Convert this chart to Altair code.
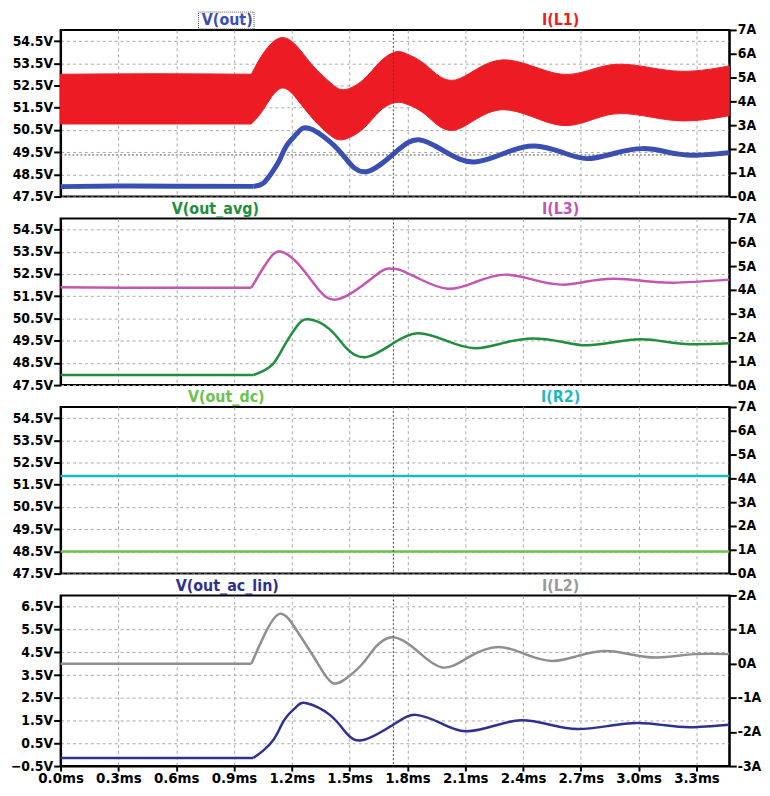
import altair as alt
import pandas as pd

# ---------------- data (time in ms) ----------------
T_END = 3.47
XTICKS = [0.0, 0.3, 0.6, 0.9, 1.2, 1.5, 1.8, 2.1, 2.4, 2.7, 3.0, 3.3]
CURSOR_T = 1.727
CURSOR_V = 49.375
STEP_V = 1.0     # start of the load step seen on the voltage traces
STEP_I = 0.99    # start of the load step seen on the current traces

V_TICKS = [47.5, 48.5, 49.5, 50.5, 51.5, 52.5, 53.5, 54.5]
A_TICKS = [0, 1, 2, 3, 4, 5, 6, 7]
VAC_TICKS = [-0.5, 0.5, 1.5, 2.5, 3.5, 4.5, 5.5, 6.5]
IL2_TICKS = [-3, -2, -1, 0, 1, 2]

# Panel 1: V(out) (left) and I(L1) ripple band (right)
VOUT_T = [0, 0.3, 0.6, 1.0, 1.054, 1.105, 1.14, 1.174, 1.226, 1.286, 1.40, 1.48, 1.586,
          1.74, 1.86, 1.998, 2.148, 2.32, 2.46, 2.60, 2.73, 2.87, 3.02, 3.15, 3.28, 3.47]
VOUT_V = [47.95, 47.98, 47.97, 47.96, 48.12, 48.69, 49.21, 49.81, 50.33, 50.58, 49.95, 49.21, 48.62,
          49.51, 50.06, 49.51, 49.06, 49.51, 49.78, 49.50, 49.21, 49.44, 49.66, 49.50, 49.36, 49.48]

IL1_T = [0, 0.5, 0.99, 1.054, 1.14, 1.226, 1.31, 1.40, 1.47, 1.57, 1.66, 1.74,
         1.8, 1.9, 2.05, 2.29, 2.60, 2.87, 3.18, 3.47]
IL1_HI = [5.14, 5.16, 5.14, 6.04, 6.67, 6.32, 5.49, 4.79, 4.49, 4.90, 5.68, 6.08,
          5.98, 5.50, 4.90, 5.74, 5.14, 5.55, 5.28, 5.49]
IL1_LO = [3.05, 3.05, 3.05, 3.68, 4.54, 4.10, 3.26, 2.57, 2.40, 2.85, 3.62, 3.95,
          3.87, 3.40, 2.80, 3.65, 2.99, 3.47, 3.20, 3.40]

# Panel 2: V(out_avg) (left) and I(L3) (right)
VAVG_T = [0, 0.5, 1.0, 1.05, 1.10, 1.14, 1.174, 1.226, 1.286, 1.397, 1.483, 1.586, 1.72, 1.853,
          2.0, 2.15, 2.30, 2.45, 2.6, 2.73, 2.87, 3.01, 3.14, 3.27, 3.47]
VAVG_V = [47.95, 47.95, 47.95, 48.13, 48.43, 48.95, 49.47, 50.15, 50.46, 50.01, 49.16, 48.76, 49.35, 49.83,
          49.50, 49.16, 49.40, 49.60, 49.45, 49.29, 49.43, 49.56, 49.45, 49.34, 49.38]

IL3_T = [0, 0.33, 0.99, 1.054, 1.097, 1.14, 1.226, 1.329, 1.43, 1.57, 1.67, 1.715, 1.76,
         1.86, 2.01, 2.16, 2.31, 2.45, 2.60, 2.73, 2.87, 3.02, 3.18, 3.47]
IL3_V = [4.11, 4.09, 4.09, 4.95, 5.44, 5.61, 5.15, 4.11, 3.59, 4.20, 4.81, 4.89, 4.84,
         4.47, 4.05, 4.35, 4.64, 4.43, 4.22, 4.35, 4.47, 4.38, 4.30, 4.43]

# Panel 3: V(out_dc) (left) and I(R2) (right)
DC_T = [0, 3.47]
VDC_V = [48.5, 48.5]
IR2_V = [4.1, 4.1]

# Panel 4: V(out_ac_lin) (left) and I(L2) (right)
VAC_T = [0, 0.5, 1.0, 1.05, 1.105, 1.14, 1.174, 1.226, 1.277, 1.397, 1.483, 1.577, 1.74,
         1.843, 1.97, 2.10, 2.25, 2.39, 2.54, 2.68, 2.84, 2.99, 3.13, 3.27, 3.47]
VAC_V = [-0.14, -0.14, -0.14, 0.17, 0.66, 1.20, 1.68, 2.12, 2.26, 1.75, 0.95, 0.66, 1.39,
         1.75, 1.40, 1.03, 1.27, 1.51, 1.32, 1.13, 1.26, 1.39, 1.30, 1.21, 1.32]

IL2_T = [0, 0.5, 0.99, 1.054, 1.136, 1.226, 1.33, 1.41, 1.49, 1.57, 1.64, 1.71, 1.77, 1.85, 1.98,
         2.12, 2.27, 2.41, 2.55, 2.68, 2.82, 2.96, 3.10, 3.29, 3.47]
IL2_V = [0.0, 0.0, 0.0, 0.80, 1.46, 0.97, 0.05, -0.56, -0.40, 0.02, 0.52, 0.77, 0.70, 0.38, -0.11,
         0.20, 0.49, 0.28, 0.08, 0.22, 0.37, 0.27, 0.18, 0.28, 0.28]

TITLES_LEFT = ["V(out)", "V(out_avg)", "V(out_dc)", "V(out_ac_lin)"]
TITLES_RIGHT = ["I(L1)", "I(L3)", "I(R2)", "I(L2)"]

# ---------------- style ----------------
FONT = "'DejaVu Sans Condensed', 'DejaVu Sans'"
INTERP = "natural"
W = 674
H = 168
H4 = 172
BLUE_OUT = "#3a4fb5"
RED = "#ed1c24"
GREEN_AVG = "#1f8e3d"
MAGENTA = "#c455b5"
LGREEN = "#6cc24a"
CYAN = "#1fb8c2"
NAVY = "#2e3192"
GREY = "#8f8f8f"
GREY_T = "#9a9a9a"


def split(ts, cols, t_split):
    """Build a table with a 'seg' column: flat part before the step, transient after."""
    rows = []
    for k, t in enumerate(ts):
        vals = {name: arr[k] for name, arr in cols.items()}
        if t <= t_split:
            rows.append(dict(t=t, seg=0, **vals))
        if t >= t_split:
            rows.append(dict(t=t, seg=1, **vals))
    return pd.DataFrame(rows)


def x_enc(bottom):
    if bottom:
        ax = alt.Axis(values=XTICKS, labelExpr="format(datum.value,'.1f')+'ms'",
                      grid=True, ticks=True, domain=True, labelFontSize=15,
                      labelFlush=False, tickSize=5, labelPadding=0)
    else:
        ax = alt.Axis(values=XTICKS, labels=False, ticks=False, domain=False, grid=True)
    return alt.X("t:Q", scale=alt.Scale(domain=[0, T_END], nice=False, zero=False),
                 axis=ax, title=None)


def left_y(field, dom, ticks):
    return alt.Y(field, scale=alt.Scale(domain=dom, nice=False, zero=False),
                 axis=alt.Axis(orient="left", values=ticks,
                               labelExpr="format(datum.value,'.1f')+'V'", grid=True),
                 title=None)


def right_y(field, dom, ticks):
    return alt.Y(field, scale=alt.Scale(domain=dom, nice=False, zero=False),
                 axis=alt.Axis(orient="right", values=ticks,
                               labelExpr="datum.value+'A'", grid=False),
                 title=None)


def titles(i, left_cx, lcolor, rcolor):
    tl = alt.Chart(pd.DataFrame({"label": [TITLES_LEFT[i]]})).mark_text(
        font=FONT, fontWeight="bold", fontSize=16, color=lcolor,
        align="center", baseline="middle").encode(
        x=alt.value(left_cx), y=alt.value(-9.5), text="label:N")
    tr = alt.Chart(pd.DataFrame({"label": [TITLES_RIGHT[i]]})).mark_text(
        font=FONT, fontWeight="bold", fontSize=16, color=rcolor,
        align="center", baseline="middle").encode(
        x=alt.value(504), y=alt.value(-9.5), text="label:N")
    return [tl, tr]


def vcursor(bottom):
    return alt.Chart(pd.DataFrame({"t": [CURSOR_T]})).mark_rule(
        color="#444444", strokeDash=[2, 2], strokeWidth=1).encode(x=x_enc(bottom))


def trace(df, color, width, yenc, bottom):
    return alt.Chart(df).mark_line(color=color, strokeWidth=width, interpolate=INTERP).encode(
        x=x_enc(bottom), y=yenc, detail="seg:N")


# ---- panel 1
p1_right = alt.Chart(split(IL1_T, {"hi": IL1_HI, "lo": IL1_LO}, STEP_I)).mark_area(
    color=RED, stroke=RED, strokeWidth=1, interpolate=INTERP, opacity=1).encode(
    x=x_enc(False), y=right_y("hi:Q", [0, 7], A_TICKS), y2="lo:Q", detail="seg:N")
p1_left_line = trace(split(VOUT_T, {"v": VOUT_V}, STEP_V), BLUE_OUT, 5,
                     left_y("v:Q", [47.5, 55], V_TICKS), False)
p1_hcur = alt.Chart(pd.DataFrame({"v": [CURSOR_V]})).mark_rule(
    color="#555555", strokeDash=[2, 2], strokeWidth=1).encode(
    y=left_y("v:Q", [47.5, 55], V_TICKS))
sel_box = alt.Chart(pd.DataFrame({"k": [0]})).mark_rect(
    fill=None, stroke="#555555", strokeDash=[1, 1], strokeWidth=1).encode(
    x=alt.value(139), x2=alt.value(195), y=alt.value(-18), y2=alt.value(-1))
p1 = alt.layer(p1_right, alt.layer(p1_left_line, p1_hcur), vcursor(False),
               *titles(0, 168, BLUE_OUT, RED), sel_box).resolve_scale(
    y="independent").properties(width=W, height=H)

# ---- panel 2
p2_right = trace(split(IL3_T, {"i": IL3_V}, STEP_I), MAGENTA, 2.5,
                 right_y("i:Q", [0, 7], A_TICKS), False)
p2_left = trace(split(VAVG_T, {"v": VAVG_V}, STEP_V), GREEN_AVG, 2.5,
                left_y("v:Q", [47.5, 55], V_TICKS), False)
p2 = alt.layer(p2_right, p2_left, vcursor(False),
               *titles(1, 156, GREEN_AVG, MAGENTA)).resolve_scale(
    y="independent").properties(width=W, height=H)

# ---- panel 3
p3_right = alt.Chart(pd.DataFrame({"t": DC_T, "i": IR2_V})).mark_line(
    color=CYAN, strokeWidth=2.5).encode(
    x=x_enc(False), y=right_y("i:Q", [0, 7], A_TICKS))
p3_left = alt.Chart(pd.DataFrame({"t": DC_T, "v": VDC_V})).mark_line(
    color=LGREEN, strokeWidth=2.5).encode(
    x=x_enc(False), y=left_y("v:Q", [47.5, 55], V_TICKS))
p3 = alt.layer(p3_right, p3_left, vcursor(False),
               *titles(2, 167, LGREEN, CYAN)).resolve_scale(
    y="independent").properties(width=W, height=H)

# ---- panel 4
p4_right = trace(split(IL2_T, {"i": IL2_V}, STEP_I), GREY, 2.5,
                 right_y("i:Q", [-3, 2], IL2_TICKS), True)
p4_left = trace(split(VAC_T, {"v": VAC_V}, STEP_V), NAVY, 2.5,
                left_y("v:Q", [-0.5, 7.0], VAC_TICKS), True)
p4 = alt.layer(p4_right, p4_left, vcursor(True),
               *titles(3, 168, NAVY, GREY_T)).resolve_scale(
    y="independent").properties(width=W, height=H4)

chart = alt.vconcat(p1, p2, p3, p4, spacing=22, bounds="flush").properties(
    padding={"left": 1, "top": -1, "right": 0, "bottom": -0.5},
    background="white",
).configure_view(stroke="black", strokeWidth=2).configure_axis(
    labelFont=FONT, labelFontWeight="bold", labelColor="black", labelFontSize=14,
    domainColor="black", domainWidth=2, tickColor="black", tickWidth=2, tickSize=7,
    labelPadding=1, gridColor="#a8a8a8", gridDash=[3, 3], gridWidth=1,
)

chart.save("out.html", embed_options={"renderer": "svg", "actions": False})
